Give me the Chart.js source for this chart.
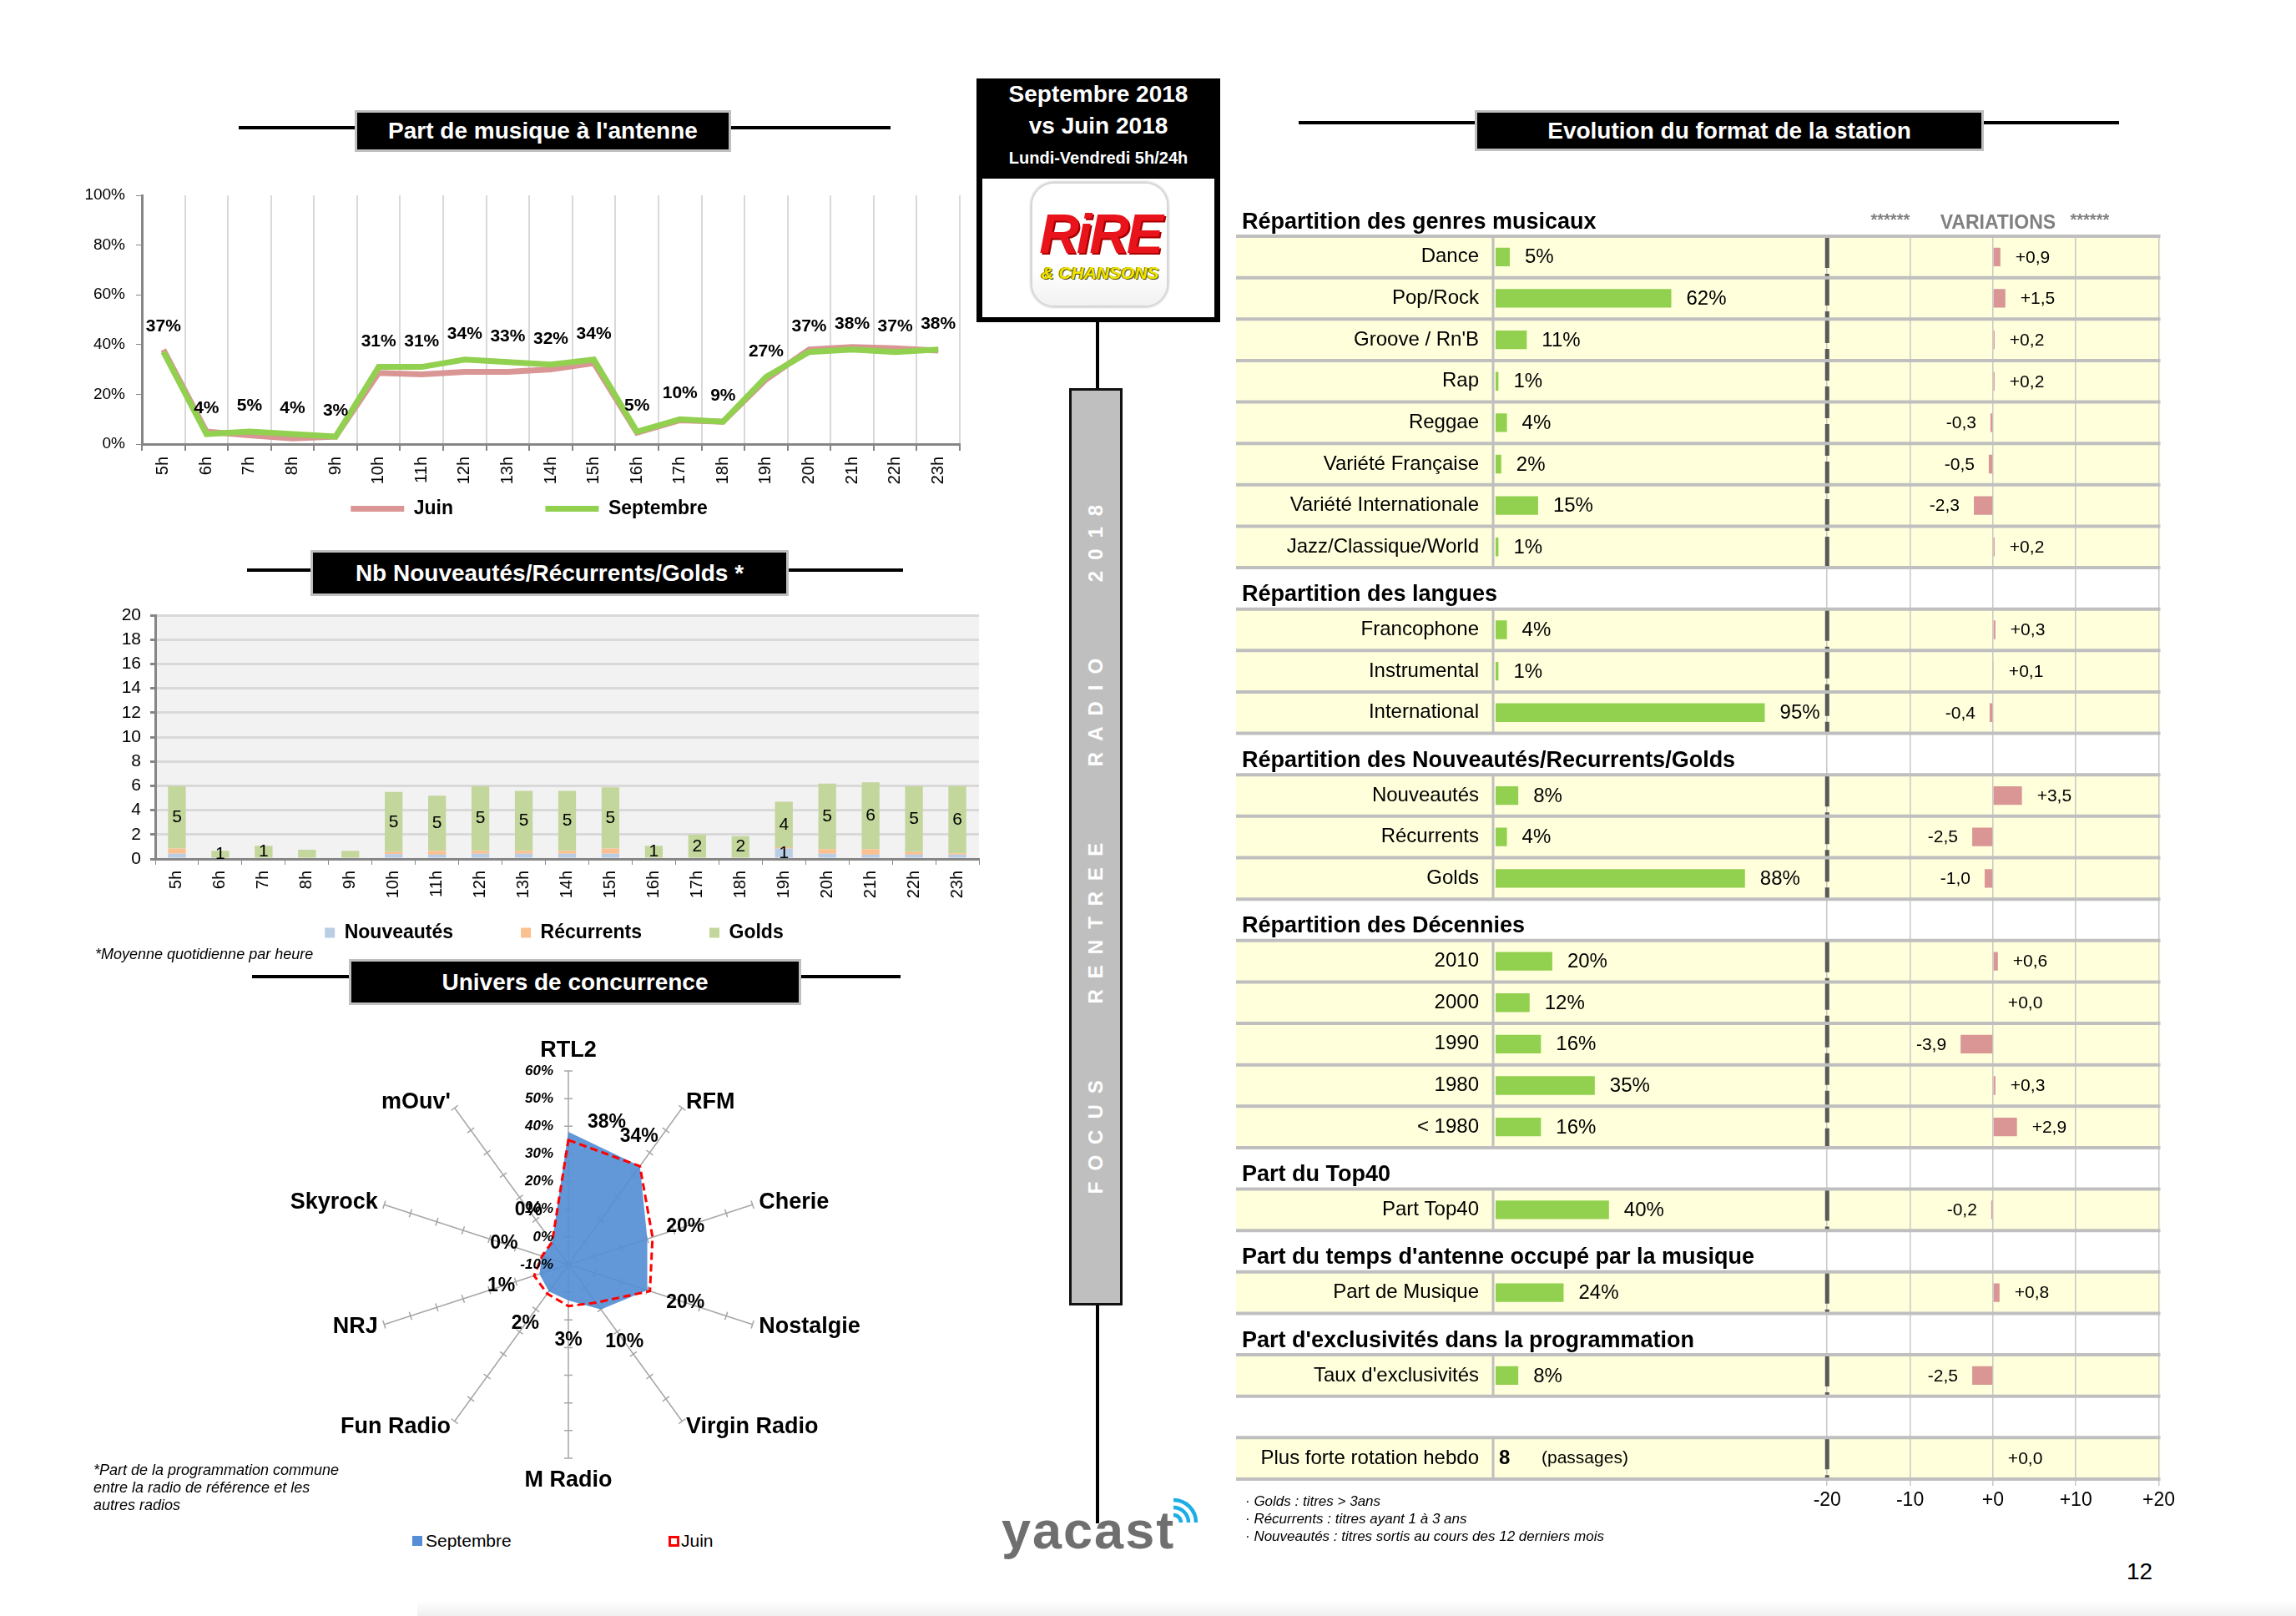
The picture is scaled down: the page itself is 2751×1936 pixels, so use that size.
<!DOCTYPE html>
<html lang="fr">
<head>
<meta charset="utf-8">
<title>Rire &amp; Chansons - Focus rentrée radio 2018</title>
<script src="https://cdn.jsdelivr.net/npm/chart.js@4.4.1/dist/chart.umd.min.js"></script>
<style>
  html, body { margin: 0; padding: 0; }
  body { width: 2751px; height: 1936px; position: relative; overflow: hidden; background: #fff; font-family: "Liberation Sans", Arial, sans-serif; color: #000; }
  canvas { position: absolute; }
  .box { position: absolute; background: #000; border: 3px solid #bfbfbf; box-sizing: border-box; color: #fff; font-weight: bold; font-size: 28px; display: flex; align-items: center; justify-content: center; white-space: nowrap; }
  .rule { position: absolute; height: 4px; background: #000; }
  .txt { position: absolute; white-space: nowrap; }
  .note { position: absolute; white-space: nowrap; font-style: italic; font-size: 18px; line-height: 21px; }
</style>
</head>
<body>

<canvas id="cLine" width="1110" height="431" style="left:60px;top:200px"></canvas>
<canvas id="cBar" width="1100" height="439" style="left:90px;top:700px"></canvas>
<canvas id="cRadar" width="742" height="575" style="left:310px;top:1215px"></canvas>
<canvas id="cTable" width="1140" height="1600" style="left:1470px;top:225px"></canvas>

<!-- titres des blocs -->
<div class="rule" style="left:286px;top:151px;width:139px"></div>
<div class="box" style="left:425px;top:132px;width:451px;height:50px">Part de musique à l'antenne</div>
<div class="rule" style="left:876px;top:151px;width:191px"></div>

<div class="rule" style="left:296px;top:681px;width:76px"></div>
<div class="box" style="left:372px;top:659px;width:573px;height:55px">Nb Nouveautés/Récurrents/Golds *</div>
<div class="rule" style="left:945px;top:681px;width:137px"></div>

<div class="rule" style="left:302px;top:1168px;width:116px"></div>
<div class="box" style="left:418px;top:1149px;width:542px;height:55px">Univers de concurrence</div>
<div class="rule" style="left:960px;top:1168px;width:119px"></div>

<div class="rule" style="left:1556px;top:145px;width:211px"></div>
<div class="box" style="left:1767px;top:132px;width:610px;height:49px">Evolution du format de la station</div>
<div class="rule" style="left:2377px;top:145px;width:162px"></div>

<!-- notes -->
<div class="note" style="left:114px;top:1133px">*Moyenne quotidienne par heure</div>
<div class="note" style="left:112px;top:1751px">*Part de la programmation commune<br>entre la radio de référence et les<br>autres radios</div>
<div class="note" style="left:1492px;top:1788px;font-size:17px">· Golds : titres &gt; 3ans<br>· Récurrents : titres ayant 1 à 3 ans<br>· Nouveautés : titres sortis au cours des 12 derniers mois</div>

<!-- légende radar -->
<div style="position:absolute;left:494px;top:1840px;width:12px;height:12px;background:#558ed5"></div>
<div class="txt" style="left:510px;top:1834px;font-size:21px;line-height:24px">Septembre</div>
<div style="position:absolute;left:801px;top:1840px;width:7px;height:7px;border:3px solid #ff0000"></div>
<div class="txt" style="left:816px;top:1834px;font-size:21px;line-height:24px">Juin</div>

<!-- colonne centrale -->
<div style="position:absolute;left:1170px;top:94px;width:292px;height:292px;background:#000"></div>
<div class="txt" style="left:1316px;top:95px;transform:translateX(-50%);color:#fff;font-weight:bold;font-size:28px;line-height:36px">Septembre 2018</div>
<div class="txt" style="left:1316px;top:133px;transform:translateX(-50%);color:#fff;font-weight:bold;font-size:28px;line-height:36px">vs Juin 2018</div>
<div class="txt" style="left:1316px;top:177px;transform:translateX(-50%);color:#fff;font-weight:bold;font-size:20px;line-height:24px">Lundi-Vendredi 5h/24h</div>
<div style="position:absolute;left:1177px;top:214px;width:278px;height:166px;background:#fff"></div>
<div style="position:absolute;left:1237px;top:220px;width:161px;height:146px;border-radius:26px;background:linear-gradient(#ffffff 70%,#f1f1f1);box-shadow:0 0 2px 3px #d6d6d6"></div>
<div class="txt" style="left:1318px;top:247px;transform:translateX(-50%);font-style:italic;font-weight:900;font-size:66px;line-height:66px;letter-spacing:-3px;color:#e8131b;text-shadow:2px 2px 0 #a80000">RiRE</div>
<div class="txt" style="left:1318px;top:316px;transform:translateX(-50%);font-style:italic;font-weight:bold;font-size:21px;line-height:22px;color:#f2e600;text-shadow:1px 1px 0 #4d4a00,-1px 0 0 #6b6500">&amp; CHANSONS</div>

<div style="position:absolute;left:1313px;top:386px;width:4px;height:79px;background:#000"></div>
<div style="position:absolute;left:1281px;top:465px;width:64px;height:1099px;background:#bfbfbf;border:3px solid #111;box-sizing:border-box"></div>
<div class="txt" style="left:1313px;top:1011px;transform:translate(-50%,-50%) rotate(-90deg);color:#fff;font-weight:bold;font-size:24px;letter-spacing:13px;white-space:pre">FOCUS    RENTREE    RADIO    2018</div>
<div style="position:absolute;left:1313px;top:1564px;width:4px;height:261px;background:#000"></div>

<div class="txt" style="left:1200px;top:1793px;font-weight:bold;font-size:63px;line-height:80px;letter-spacing:2px;color:#6f6f6f">yacast</div>
<svg style="position:absolute;left:1400px;top:1790px" width="44" height="40">
  <g fill="none" stroke="#1eaee6" stroke-width="4.5">
    <path d="M6 25 A 9 9 0 0 1 15 34"/>
    <path d="M6 16 A 18 18 0 0 1 24 34"/>
    <path d="M6 7 A 27 27 0 0 1 33 34"/>
  </g>
</svg>

<div class="txt" style="left:2548px;top:1867px;font-size:28px;line-height:32px">12</div>
<div style="position:absolute;left:500px;top:1918px;width:2251px;height:18px;background:linear-gradient(#ffffff,#efefef)"></div>

<script>
const ARIAL = '"Liberation Sans", Arial, sans-serif';
Chart.defaults.font.family = ARIAL;
Chart.defaults.color = '#000';

// --- Part de musique à l'antenne ---
const heures = ['5h', '6h', '7h', '8h', '9h', '10h', '11h', '12h', '13h', '14h', '15h', '16h', '17h', '18h', '19h', '20h', '21h', '22h', '23h'];
const musiqueJuin = [38, 5, 3.5, 2.3, 3, 28.6, 28, 29, 29, 30, 32.5, 4.6, 9.6, 9, 26, 38, 39, 38.5, 37.6];
const musiqueSept = [37, 4, 5, 4, 3, 31, 31, 34, 33, 32, 34, 5, 10, 9, 27, 37, 38, 37, 38];

// --- Nb Nouveautés / Récurrents / Golds ---
const nouveautes = [0.43, 0, 0, 0, 0, 0.39, 0.35, 0.43, 0.43, 0.43, 0.43, 0, 0, 0, 0.85, 0.43, 0.35, 0.35, 0.35];
const recurrents = [0.42, 0, 0, 0, 0, 0.18, 0.31, 0.23, 0.23, 0.23, 0.42, 0, 0, 0, 0.11, 0.37, 0.45, 0.22, 0.11];
const golds = [5.12, 0.66, 1.07, 0.75, 0.66, 4.92, 4.53, 5.31, 4.92, 4.92, 5.02, 1.07, 1.99, 1.87, 3.73, 5.39, 5.49, 5.4, 5.51];
const goldsLabels = [5, 1, 1, null, null, 5, 5, 5, 5, 5, 5, 1, 2, 2, 4, 5, 6, 5, 6];
const nouvLabels = [null, null, null, null, null, null, null, null, null, null, null, null, null, null, 1, null, null, null, null];

// --- Univers de concurrence ---
const radios = ['RTL2', 'RFM', 'Cherie', 'Nostalgie', 'Virgin Radio', 'M Radio', 'Fun Radio', 'NRJ', 'Skyrock', "mOuv'"];
const concSept = [38, 34, 20, 20, 10, 3, 2, 1, 0, 0];
const concJuin = [35, 34, 22, 21, 7, 5, 3, 3, 0, 0];

// --- Evolution du format de la station ---
const genres = ['Dance', 'Pop/Rock', "Groove / Rn'B", 'Rap', 'Reggae', 'Variété Française', 'Variété Internationale', 'Jazz/Classique/World'];
const genresPct = [5, 62, 11, 1, 4, 2, 15, 1];
const genresVar = [0.9, 1.5, 0.2, 0.2, -0.3, -0.5, -2.3, 0.2];
const langues = ['Francophone', 'Instrumental', 'International'];
const languesPct = [4, 1, 95];
const languesVar = [0.3, 0.1, -0.4];
const anciennete = ['Nouveautés', 'Récurrents', 'Golds'];
const anciennetePct = [8, 4, 88];
const ancienneteVar = [3.5, -2.5, -1.0];
const decennies = ['2010', '2000', '1990', '1980', '< 1980'];
const decenniesPct = [20, 12, 16, 35, 16];
const decenniesVar = [0.6, 0.0, -3.9, 0.3, 2.9];
const top40 = ['Part Top40'];
const top40Pct = [40];
const top40Var = [-0.2];
const partMusique = ['Part de Musique'];
const partMusiquePct = [24];
const partMusiqueVar = [0.8];
const exclusivites = ["Taux d'exclusivités"];
const exclusivitesPct = [8];
const exclusivitesVar = [-2.5];
const rotation = ['Plus forte rotation hebdo'];
const rotationNb = [8];
const rotationVar = [0.0];

const sections = [
  { titre: 'Répartition des genres musicaux', items: genres, pct: genresPct, vari: genresVar },
  { titre: 'Répartition des langues', items: langues, pct: languesPct, vari: languesVar },
  { titre: 'Répartition des Nouveautés/Recurrents/Golds', items: anciennete, pct: anciennetePct, vari: ancienneteVar },
  { titre: 'Répartition des Décennies', items: decennies, pct: decenniesPct, vari: decenniesVar },
  { titre: 'Part du Top40', items: top40, pct: top40Pct, vari: top40Var },
  { titre: "Part du temps d'antenne occupé par la musique", items: partMusique, pct: partMusiquePct, vari: partMusiqueVar },
  { titre: "Part d'exclusivités dans la programmation", items: exclusivites, pct: exclusivitesPct, vari: exclusivitesVar },
  { titre: '', items: rotation, nb: rotationNb, vari: rotationVar }
];

const rows = [];
sections.forEach((s, k) => {
  if (k > 0) rows.push({ head: s.titre });
  s.items.forEach((lab, i) => {
    rows.push({ label: lab, pct: s.pct ? s.pct[i] : null, nb: s.nb ? s.nb[i] : null, v: s.vari[i] });
  });
});

const fmtVar = v => (v < 0 ? '-' : '+') + Math.abs(v).toFixed(1).replace('.', ',');

// legend items kept in dataset order; an empty lead item and some spacing
// push them to where they sit in the original
const EM = '\u2003';
const legendLabels = (gap, lead, tail) => ch => {
  const items = Chart.defaults.plugins.legend.labels.generateLabels(ch)
    .sort((a, b) => a.datasetIndex - b.datasetIndex);
  items.forEach((it, i) => { it.text += i < items.length - 1 ? gap : tail; });
  items.unshift({
    text: lead, fillStyle: 'rgba(0,0,0,0)', strokeStyle: 'rgba(0,0,0,0)',
    lineWidth: 0, hidden: false, datasetIndex: -1, pointStyle: 'line'
  });
  return items;
};

// ---------- line chart ----------
const lineLabels = {
  id: 'lineLabels',
  afterDatasetsDraw(chart) {
    const ctx = chart.ctx;
    const meta = chart.getDatasetMeta(1);
    ctx.save();
    ctx.font = 'bold 21px ' + ARIAL;
    ctx.fillStyle = '#000';
    ctx.textAlign = 'center';
    ctx.textBaseline = 'bottom';
    meta.data.forEach((pt, i) => {
      ctx.fillText(musiqueSept[i] + '%', pt.x, pt.y - 20);
    });
    ctx.restore();
  }
};

new Chart(document.getElementById('cLine'), {
  type: 'line',
  data: {
    labels: heures,
    datasets: [
      { label: 'Juin', data: musiqueJuin, borderColor: '#d99694', backgroundColor: '#d99694', borderWidth: 7, pointRadius: 0, order: 1 },
      { label: 'Septembre', data: musiqueSept, borderColor: '#92d050', backgroundColor: '#92d050', borderWidth: 7, pointRadius: 0, order: 0 }
    ]
  },
  options: {
    responsive: false,
    animation: false,
    devicePixelRatio: 1,
    layout: { padding: { top: 34, right: 20, left: 0, bottom: 0 } },
    plugins: {
      legend: {
        position: 'bottom',
        labels: {
          usePointStyle: true,
          pointStyle: 'line',
          pointStyleWidth: 64,
          padding: 12,
          color: '#000',
          font: { size: 23, weight: 'bold' },
          generateLabels: legendLabels(EM.repeat(4) + ' ', '', EM + ' ')
        }
      },
      tooltip: { enabled: false }
    },
    scales: {
      x: {
        offset: true,
        grid: { offset: true, color: '#d9d9d9', lineWidth: 2, tickColor: '#868686', tickLength: 8 },
        border: { color: '#868686', width: 3 },
        ticks: { minRotation: 90, maxRotation: 90, font: { size: 20 }, padding: 7 },
        afterFit: s => { s.height = 54; }
      },
      y: {
        min: 0,
        max: 100,
        ticks: { stepSize: 20, callback: v => v + '%', font: { size: 19 }, padding: 13 },
        grid: { drawOnChartArea: false, tickColor: '#868686', tickLength: 7 },
        border: { color: '#868686', width: 3 },
        afterFit: s => { s.width = 110; }
      }
    }
  },
  plugins: [lineLabels]
});

// ---------- stacked bar chart ----------
const plotBg = {
  id: 'plotBg',
  beforeDraw(chart) {
    const { ctx, chartArea: a } = chart;
    ctx.save();
    ctx.fillStyle = '#f2f2f2';
    ctx.fillRect(a.left, a.top, a.width, a.height);
    ctx.restore();
  }
};

const barLabels = {
  id: 'barLabels',
  afterDatasetsDraw(chart) {
    const ctx = chart.ctx;
    ctx.save();
    ctx.font = '21px ' + ARIAL;
    ctx.fillStyle = '#000';
    ctx.textAlign = 'center';
    ctx.textBaseline = 'middle';
    [[0, nouvLabels], [2, goldsLabels]].forEach(([ds, lbls]) => {
      chart.getDatasetMeta(ds).data.forEach((el, i) => {
        if (lbls[i] == null) return;
        ctx.fillText(String(lbls[i]), el.x, (el.y + el.base) / 2);
      });
    });
    ctx.restore();
  }
};

new Chart(document.getElementById('cBar'), {
  type: 'bar',
  data: {
    labels: heures,
    datasets: [
      { label: 'Nouveautés', data: nouveautes, backgroundColor: '#b9cde5' },
      { label: 'Récurrents', data: recurrents, backgroundColor: '#fac090' },
      { label: 'Golds', data: golds, backgroundColor: '#c3d69b' }
    ]
  },
  options: {
    responsive: false,
    animation: false,
    devicePixelRatio: 1,
    datasets: { bar: { categoryPercentage: 1, barPercentage: 0.41 } },
    layout: { padding: { top: 37, right: 17, left: 0, bottom: 0 } },
    plugins: {
      legend: {
        position: 'bottom',
        labels: {
          boxWidth: 12,
          boxHeight: 12,
          padding: 12,
          color: '#000',
          font: { size: 23, weight: 'bold' },
          generateLabels: legendLabels(EM.repeat(3), EM + ' ', '')
        }
      },
      tooltip: { enabled: false }
    },
    scales: {
      x: {
        stacked: true,
        grid: { offset: true, drawOnChartArea: false, tickColor: '#868686', tickLength: 7 },
        border: { color: '#868686', width: 3 },
        ticks: { minRotation: 90, maxRotation: 90, font: { size: 20 }, padding: 7 },
        afterFit: s => { s.height = 65; }
      },
      y: {
        stacked: true,
        min: 0,
        max: 20,
        ticks: { stepSize: 2, font: { size: 21 }, padding: 11 },
        grid: { color: '#d9d9d9', lineWidth: 3, tickColor: '#868686', tickLength: 6 },
        border: { color: '#868686', width: 3 },
        afterFit: s => { s.width = 96; }
      }
    }
  },
  plugins: [plotBg, barLabels]
});

// ---------- radar ----------
const radarDeco = {
  id: 'radarDeco',
  beforeDatasetsDraw(chart) {
    const ctx = chart.ctx;
    const r = chart.scales.r;
    ctx.save();
    ctx.strokeStyle = '#a6a6a6';
    ctx.lineWidth = 1.5;
    ctx.beginPath();
    r.ticks.forEach(t => {
      const d = r.getDistanceFromCenterForValue(t.value);
      if (d < 1) return;
      radios.forEach((_, i) => {
        const p = r.getPointPosition(i, d);
        const nx = -Math.sin(p.angle) * 5, ny = Math.cos(p.angle) * 5;
        ctx.moveTo(p.x - nx, p.y - ny);
        ctx.lineTo(p.x + nx, p.y + ny);
      });
    });
    ctx.stroke();
    ctx.restore();
  },
  afterDatasetsDraw(chart) {
    const ctx = chart.ctx;
    const r = chart.scales.r;
    ctx.save();
    ctx.fillStyle = '#000';
    ctx.textBaseline = 'middle';
    // axis values along the top spoke
    ctx.font = 'italic bold 17px ' + ARIAL;
    ctx.textAlign = 'right';
    r.ticks.forEach(t => {
      ctx.fillText(t.value + '%', r.xCenter - 18, r.yCenter - r.getDistanceFromCenterForValue(t.value));
    });
    // radio names, centred on the end of each spoke like the original
    ctx.font = 'bold 27px ' + ARIAL;
    const outer = r.getDistanceFromCenterForValue(r.max) + 8;
    radios.forEach((name, i) => {
      const p = r.getPointPosition(i, outer);
      const deg = Math.round(i * 360 / radios.length);
      let x = p.x, y = p.y;
      if (deg === 0) { ctx.textAlign = 'center'; y -= 16; }
      else if (deg === 180) { ctx.textAlign = 'center'; y += 19; }
      else ctx.textAlign = deg < 180 ? 'left' : 'right';
      ctx.fillText(name, x, y);
    });
    // Septembre values
    ctx.font = 'bold 23px ' + ARIAL;
    ctx.textAlign = 'center';
    concSept.forEach((v, i) => {
      const d = r.getDistanceFromCenterForValue(v);
      let p;
      if (i === 0) {
        const q = r.getPointPosition(i, d);
        p = { x: q.x + 46, y: q.y - 11 };
      } else if (i === 1) {
        const q = r.getPointPosition(i, d);
        p = { x: q.x - 1, y: q.y - 35 };
      } else {
        p = r.getPointPosition(i, d + 48);
      }
      ctx.fillText(v + '%', p.x, p.y);
    });
    ctx.restore();
  }
};

new Chart(document.getElementById('cRadar'), {
  type: 'radar',
  data: {
    labels: radios,
    datasets: [
      { label: 'Septembre', data: concSept, backgroundColor: 'rgba(85,142,213,0.92)', borderWidth: 0, fill: 'start', pointRadius: 0, order: 1 },
      { label: 'Juin', data: concJuin, borderColor: '#ff0000', backgroundColor: 'transparent', borderWidth: 3, borderDash: [9, 5], fill: false, pointRadius: 0, order: 0 }
    ]
  },
  options: {
    responsive: false,
    animation: false,
    devicePixelRatio: 1,
    layout: { padding: { top: 68, bottom: 42, left: 0, right: 0 } },
    plugins: { legend: { display: false }, tooltip: { enabled: false } },
    scales: {
      r: {
        min: -10,
        max: 60,
        ticks: { display: false, stepSize: 10 },
        grid: { display: false },
        angleLines: { color: '#a6a6a6', lineWidth: 1.5 },
        pointLabels: { display: false }
      }
    }
  },
  plugins: [radarDeco]
});

// ---------- format table ----------
const tableDeco = {
  id: 'tableDeco',
  beforeDraw(chart) {
    const { ctx, chartArea: a, scales: { y } } = chart;
    const h = y.getPixelForValue(1) - y.getPixelForValue(0);
    ctx.save();
    ctx.fillStyle = '#ffffdc';
    rows.forEach((r, i) => {
      if (r.head !== undefined) return;
      ctx.fillRect(11, y.getPixelForValue(i) - h / 2, a.right + 2 - 11, h);
    });
    ctx.restore();
  },
  beforeDatasetsDraw(chart) {
    const { ctx, chartArea: a, scales: { y, xv } } = chart;
    const h = y.getPixelForValue(1) - y.getPixelForValue(0);
    const isData = i => i >= 0 && i < rows.length && rows[i].head === undefined;
    ctx.save();
    // separator between labels and bars
    ctx.strokeStyle = '#bfbfbf';
    ctx.lineWidth = 3;
    ctx.beginPath();
    rows.forEach((r, i) => {
      if (!isData(i)) return;
      const yc = y.getPixelForValue(i);
      ctx.moveTo(a.left - 3, yc - h / 2);
      ctx.lineTo(a.left - 3, yc + h / 2);
    });
    ctx.stroke();
    // dashed line at -20
    const xd = xv.getPixelForValue(-20);
    ctx.strokeStyle = '#595959';
    ctx.lineWidth = 5;
    ctx.setLineDash([38, 7]);
    let start = null;
    for (let i = 0; i <= rows.length; i++) {
      if (isData(i) && start === null) start = i;
      if (!isData(i) && start !== null) {
        ctx.beginPath();
        ctx.moveTo(xd, y.getPixelForValue(start) - h / 2);
        ctx.lineTo(xd, y.getPixelForValue(i - 1) + h / 2);
        ctx.stroke();
        start = null;
      }
    }
    ctx.setLineDash([]);
    // horizontal separators
    ctx.strokeStyle = '#bfbfbf';
    ctx.lineWidth = 4;
    ctx.beginPath();
    const y0 = y.getPixelForValue(0) - h / 2;
    for (let k = 0; k <= rows.length; k++) {
      if (!isData(k - 1) && !isData(k)) continue;
      const yy = y0 + k * h;
      ctx.moveTo(11, yy);
      ctx.lineTo(a.right + 2, yy);
    }
    ctx.stroke();
    ctx.restore();
  },
  afterDatasetsDraw(chart) {
    const { ctx, chartArea: a, scales: { y, xv } } = chart;
    const h = y.getPixelForValue(1) - y.getPixelForValue(0);
    const pm = chart.getDatasetMeta(0), vm = chart.getDatasetMeta(1);
    ctx.save();
    ctx.fillStyle = '#000';
    ctx.textBaseline = 'middle';
    // first section title and VARIATIONS header
    ctx.font = 'bold 27px ' + ARIAL;
    ctx.textAlign = 'left';
    ctx.fillText(sections[0].titre, 18, a.top - 16);
    const x0 = xv.getPixelForValue(0);
    ctx.fillStyle = '#808080';
    ctx.textAlign = 'center';
    ctx.font = 'bold 23px ' + ARIAL;
    ctx.fillText('VARIATIONS', x0 + 6, a.top - 15);
    ctx.font = 'bold 20px ' + ARIAL;
    ctx.fillText('******', x0 - 123, a.top - 19);
    ctx.fillText('******', x0 + 116, a.top - 19);
    ctx.fillStyle = '#000';
    rows.forEach((r, i) => {
      const yc = y.getPixelForValue(i);
      if (r.head !== undefined) {
        ctx.font = 'bold 27px ' + ARIAL;
        ctx.textAlign = 'left';
        ctx.fillText(r.head, 18, yc + h / 2 - 17);
        return;
      }
      if (r.pct != null) {
        const b = pm.data[i];
        ctx.font = '24px ' + ARIAL;
        ctx.textAlign = 'left';
        ctx.fillText(r.pct + '%', b.x + 18, yc + 1);
      }
      if (r.nb != null) {
        ctx.textAlign = 'left';
        ctx.font = 'bold 24px ' + ARIAL;
        ctx.fillText(String(r.nb), a.left + 4, yc);
        ctx.font = '21px ' + ARIAL;
        ctx.fillText('(passages)', a.left + 55, yc);
      }
      if (r.v != null) {
        const b = vm.data[i];
        ctx.font = '21px ' + ARIAL;
        if (r.v >= 0) {
          ctx.textAlign = 'left';
          ctx.fillText(fmtVar(r.v), b.x + 18, yc + 1);
        } else {
          ctx.textAlign = 'right';
          ctx.fillText(fmtVar(r.v), b.x - 17, yc + 1);
        }
      }
    });
    ctx.restore();
  }
};

new Chart(document.getElementById('cTable'), {
  type: 'bar',
  data: {
    labels: rows.map(r => r.label || ''),
    datasets: [
      { label: 'Part', data: rows.map(r => r.pct ?? null), xAxisID: 'xp', backgroundColor: '#92d050' },
      { label: 'Variation', data: rows.map(r => r.v ?? null), xAxisID: 'xv', backgroundColor: '#da9694' }
    ]
  },
  options: {
    indexAxis: 'y',
    responsive: false,
    animation: false,
    devicePixelRatio: 1,
    datasets: { bar: { grouped: false, categoryPercentage: 1, barPercentage: 0.45 } },
    layout: { padding: { top: 58, right: 19, bottom: 13, left: 0 } },
    plugins: { legend: { display: false }, tooltip: { enabled: false } },
    scales: {
      y: {
        type: 'category',
        grid: { display: false, drawTicks: false },
        border: { display: false },
        ticks: { autoSkip: false, font: { size: 24 }, color: '#000', padding: 20 },
        afterFit: s => { s.width = 322; }
      },
      xp: { type: 'linear', position: 'top', min: 0, max: 234, display: false },
      xv: {
        type: 'linear',
        position: 'bottom',
        min: -60,
        max: 20,
        ticks: {
          stepSize: 10,
          font: { size: 23 },
          color: '#000',
          padding: 4,
          callback: v => (v > 0 ? '+' + v : v === 0 ? '+0' : String(v))
        },
        afterBuildTicks: s => { s.ticks = s.ticks.filter(t => t.value >= -20); },
        grid: { color: '#c8c8c8', lineWidth: 1.5, tickLength: 8 },
        border: { display: false },
        afterFit: s => { s.height = 40; }
      }
    }
  },
  plugins: [tableDeco]
});
</script>
</body>
</html>
